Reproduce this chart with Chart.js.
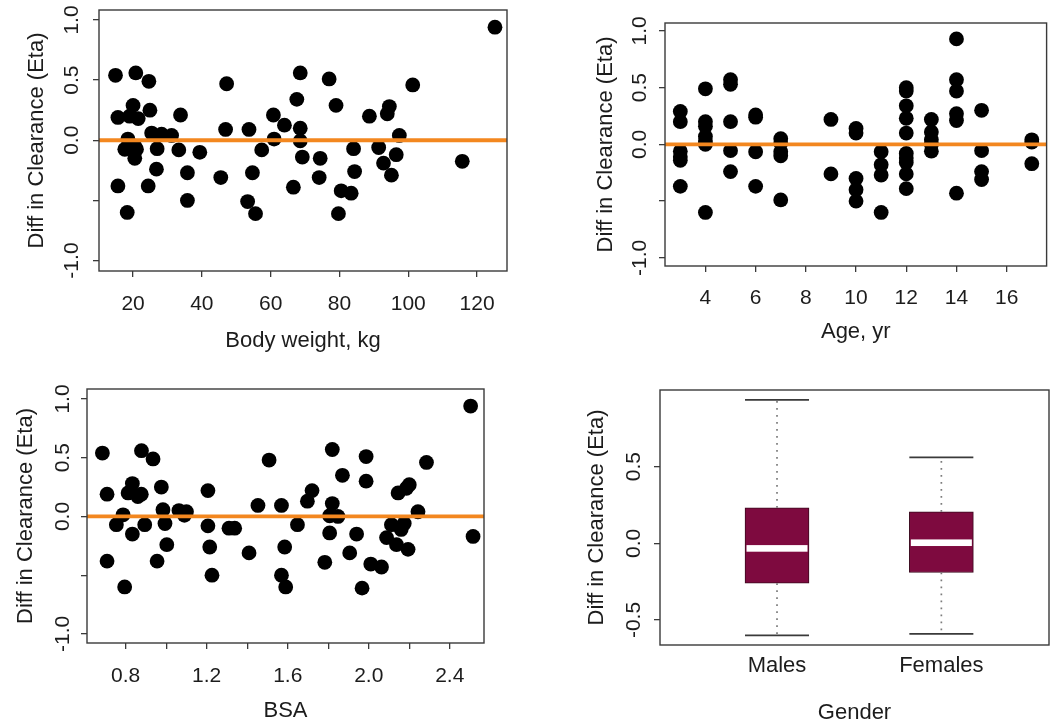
<!DOCTYPE html>
<html>
<head>
<meta charset="utf-8">
<title>Diff in Clearance (Eta) versus covariates</title>
<script src="https://cdn.jsdelivr.net/npm/chart.js@4.4.1/dist/chart.umd.min.js"></script>
<style>
  body { margin: 0; background: #fff; }
  #wrap { position: relative; width: 1054px; height: 728px; }
  canvas { position: absolute; }
</style>
</head>
<body>
<div id="wrap">
  <canvas id="cWeight" width="527" height="364" style="left:0;top:0"></canvas>
  <canvas id="cAge" width="527" height="364" style="left:527px;top:0"></canvas>
  <canvas id="cBsa" width="527" height="364" style="left:0;top:364px"></canvas>
  <canvas id="cGender" width="527" height="364" style="left:527px;top:364px"></canvas>
</div>
<script>
// ---- data ----
const etaTicks = [-1, -0.5, 0, 0.5, 1];
const etaTickLabels = ['-1.0', '', '0.0', '0.5', '1.0'];

// body weight, kg
const weightKg = [14.9, 20.8, 24.6, 47.2, 15.6, 20.0, 19.0, 21.5, 24.9, 33.8, 46.9, 53.7, 18.5, 25.4, 28.3, 31.2,
  17.6, 21.0, 20.5, 27.0, 33.3, 39.4, 57.4, 26.8, 35.8, 45.5, 54.7, 15.6, 24.4, 35.8, 53.3, 18.3, 55.6,
  125.2, 68.6, 77.0, 101.3, 67.6, 79.0, 60.8, 88.7, 94.5, 93.9, 64.0, 68.6, 61.0, 68.6, 97.4, 69.2, 74.4,
  84.1, 91.4, 96.5, 92.8, 95.1, 84.4, 74.1, 66.6, 80.5, 83.4, 79.7, 115.7, 20.5];
const etaByWeight = [0.54, 0.56, 0.49, 0.47, 0.19, 0.29, 0.20, 0.18, 0.25, 0.21, 0.09, 0.09, 0.01, 0.06, 0.05, 0.04,
  -0.075, -0.075, -0.15, -0.07, -0.08, -0.10, -0.08, -0.24, -0.27, -0.31, -0.27, -0.38, -0.38, -0.50, -0.51, -0.60, -0.61,
  0.94, 0.56, 0.51, 0.46, 0.34, 0.29, 0.21, 0.20, 0.28, 0.22, 0.125, 0.10, 0.01, -0.005, 0.04, -0.14, -0.15,
  -0.07, -0.06, -0.12, -0.19, -0.29, -0.26, -0.31, -0.39, -0.42, -0.44, -0.61, -0.175, -0.05];
const weightTicks = [20, 40, 60, 80, 100, 120];
const weightTickLabels = ['20', '40', '60', '80', '100', '120'];

// age, yr
const ageYr = [3, 3, 3, 3, 3, 3, 4, 4, 4, 4, 4, 4, 4, 5, 5, 5, 5, 5, 6, 6, 6, 6, 7, 7, 7, 7, 7, 9, 9,
  10, 10, 10, 10, 10, 11, 11, 11, 11, 12, 12, 12, 12, 12, 12, 12, 12, 12, 12, 13, 13, 13, 13, 13,
  14, 14, 14, 14, 14, 14, 15, 15, 15, 15, 17, 17, 17];
const etaByAge = [0.29, 0.20, -0.06, -0.11, -0.14, -0.37, 0.49, 0.20, 0.16, 0.07, 0.03, 0.00, -0.60,
  0.57, 0.53, 0.20, -0.055, -0.24, 0.26, 0.24, -0.065, -0.37, 0.05, 0.01, -0.065, -0.10, -0.49, 0.22, -0.26,
  0.14, 0.10, -0.30, -0.40, -0.50, -0.065, -0.18, -0.27, -0.60, 0.50, 0.47, 0.34, 0.23, 0.10, -0.08, -0.12, -0.16, -0.26, -0.39,
  0.22, 0.11, 0.04, 0.00, -0.06, 0.93, 0.57, 0.47, 0.27, 0.21, -0.43, 0.30, -0.055, -0.24, -0.31, 0.04, 0.02, -0.17];
const ageTicks = [4, 6, 8, 10, 12, 14, 16];
const ageTickLabels = ['4', '6', '8', '10', '12', '14', '16'];

// body surface area
const bsa = [0.685, 0.878, 0.935, 1.508, 0.708, 0.833, 0.812, 0.877, 0.86, 0.976, 1.206, 1.453, 1.569, 0.787, 0.984,
  1.063, 1.10, 1.09, 0.754, 0.894, 0.994, 0.833, 1.206, 1.338, 1.31, 1.003, 1.215, 1.409, 1.585, 0.708, 0.955, 1.226,
  1.569, 0.795, 1.59, 2.503, 1.82, 1.987, 2.285, 1.87, 1.987, 1.72, 1.697, 2.20, 2.186, 2.145, 1.82, 1.807, 1.848,
  2.243, 1.648, 2.112, 2.175, 2.16, 1.807, 1.94, 2.088, 2.137, 2.194, 2.515, 1.906, 1.783, 2.01, 2.063, 1.967];
const etaByBsa = [0.54, 0.56, 0.49, 0.48, 0.19, 0.28, 0.20, 0.19, 0.17, 0.25, 0.22, 0.094, 0.094, 0.014, 0.057,
  0.05, 0.04, 0.01, -0.07, -0.07, -0.06, -0.15, -0.08, -0.10, -0.10, -0.24, -0.26, -0.31, -0.26, -0.38, -0.38, -0.50,
  -0.50, -0.60, -0.60, 0.94, 0.57, 0.51, 0.46, 0.35, 0.30, 0.22, 0.13, 0.27, 0.24, 0.20, 0.11, 0.006, 0.0,
  0.04, -0.07, -0.07, -0.06, -0.11, -0.14, -0.15, -0.18, -0.24, -0.28, -0.17, -0.31, -0.39, -0.405, -0.43, -0.61];
const bsaTicks = [0.8, 1.0, 1.2, 1.4, 1.6, 1.8, 2.0, 2.2, 2.4];
const bsaTickLabels = ['0.8', '', '1.2', '', '1.6', '', '2.0', '', '2.4'];

// gender box plot
const genderLabels = ['Males', 'Females'];
const genderPos = [1, 2];
const boxMin = [-0.60, -0.59];
const boxQ1 = [-0.26, -0.19];
const boxMedian = [-0.033, 0.004];
const boxQ3 = [0.232, 0.206];
const boxMax = [0.935, 0.56];
const genderEtaTicks = [-0.5, 0, 0.5];
const genderEtaTickLabels = ['-0.5', '0.0', '0.5'];

// ---- styling ----
const FONT = "'Liberation Sans', Arial, Helvetica, sans-serif";
const TEXT = '#1c1c1c';
const AXIS = '#3a3a3a';
const ORANGE = '#F3871F';
const MAROON = '#7E0A3F';
const TICK = 6;
const BOX_W = 64;
const LABEL_HALF = 18.1; // half the width of the widest rotated tick label

const frame = {
  id: 'frame',
  afterDatasetsDraw(chart) {
    const { ctx, chartArea: a } = chart;
    ctx.save();
    ctx.strokeStyle = AXIS;
    ctx.lineWidth = 1.4;
    ctx.strokeRect(a.left, a.top, a.right - a.left, a.bottom - a.top);
    ctx.restore();
  }
};

function font(size) { return { family: FONT, size: size, lineHeight: 1.2 }; }

// g: geometry of a panel inside its 527x364 canvas
function options(g, xr, yr) {
  const xSize = g.xTickSize || 21;
  return {
    responsive: false, animation: false, devicePixelRatio: 1, events: [],
    layout: { padding: { top: g.top, right: g.right, left: 0, bottom: 0 } },
    plugins: { legend: { display: false }, tooltip: { enabled: false } },
    scales: {
      x: {
        type: 'linear', min: xr.min, max: xr.max, offset: false,
        border: { display: false },
        grid: { display: g.xMarks, drawTicks: g.xMarks, drawOnChartArea: false, tickLength: TICK, color: AXIS, lineWidth: 1.3 },
        afterBuildTicks: s => { s.ticks = xr.ticks.map(v => ({ value: v })); },
        ticks: { autoSkip: false, maxRotation: 0, minRotation: 0, color: TEXT, font: font(xSize),
          padding: g.xLabelY - (364 - g.xHeight) - (g.xMarks ? TICK : 0) - xSize * 0.6,
          callback: (v, i) => xr.labels[i] },
        title: { display: true, text: xr.title, color: TEXT, font: font(22),
          padding: { top: 0, bottom: 364 - g.xTitleY - 13.2 } },
        afterFit: s => { s.height = g.xHeight; s.paddingLeft = 0; s.paddingRight = 0; }
      },
      y: {
        type: 'linear', min: yr.min, max: yr.max,
        border: { display: false },
        grid: { drawOnChartArea: false, tickLength: TICK, color: AXIS, lineWidth: 1.3 },
        afterBuildTicks: s => { s.ticks = yr.ticks.map(v => ({ value: v })); },
        ticks: { autoSkip: false, minRotation: 90, maxRotation: 90, crossAlign: 'center', color: TEXT, font: font(21),
          padding: g.yWidth - TICK - LABEL_HALF - g.yLabelX,
          callback: (v, i) => yr.labels[i] },
        title: { display: true, text: 'Diff in Clearance (Eta)', color: TEXT, font: font(22),
          padding: { top: g.yTitleX - 13.2, bottom: 0 } },
        afterFit: s => { s.width = g.yWidth; s.paddingTop = 0; s.paddingBottom = 0; }
      }
    }
  };
}

function scatterPanel(id, g, xs, ys, xr, yr) {
  new Chart(document.getElementById(id), {
    type: 'scatter',
    data: {
      datasets: [
        { type: 'line', showLine: true, data: [{ x: xr.min, y: 0 }, { x: xr.max, y: 0 }],
          borderColor: ORANGE, borderWidth: 3.8, pointRadius: 0, order: 0 },
        { data: xs.map((v, i) => ({ x: v, y: ys[i] })), backgroundColor: '#000', borderWidth: 0,
          pointRadius: 7.4, order: 1 }
      ]
    },
    options: options(g, xr, yr),
    plugins: [frame]
  });
}

scatterPanel('cWeight',
  { top: 10, right: 20, yWidth: 99, xHeight: 93, yLabelX: 72, yTitleX: 37, xLabelY: 304, xTitleY: 341, xMarks: true },
  weightKg, etaByWeight,
  { min: 10.1, max: 128.7, ticks: weightTicks, labels: weightTickLabels, title: 'Body weight, kg' },
  { min: -1.087, max: 1.083, ticks: etaTicks, labels: etaTickLabels });

scatterPanel('cAge',
  { top: 23, right: 5, yWidth: 138, xHeight: 98, yLabelX: 113.5, yTitleX: 79, xLabelY: 298, xTitleY: 332, xMarks: true },
  ageYr, etaByAge,
  { min: 2.39, max: 17.59, ticks: ageTicks, labels: ageTickLabels, title: 'Age, yr' },
  { min: -1.072, max: 1.07, ticks: etaTicks, labels: etaTickLabels });

scatterPanel('cBsa',
  { top: 25, right: 43, yWidth: 87, xHeight: 85, yLabelX: 63.5, yTitleX: 25.7, xLabelY: 312.3, xTitleY: 347.3, xMarks: true },
  bsa, etaByBsa,
  { min: 0.609, max: 2.569, ticks: bsaTicks, labels: bsaTickLabels, title: 'BSA' },
  { min: -1.077, max: 1.085, ticks: etaTicks, labels: etaTickLabels });

// whiskers, caps and medians drawn on top of the floating-bar boxes
const boxExtras = {
  id: 'boxExtras',
  afterDatasetsDraw(chart) {
    const { ctx, scales: { x, y } } = chart;
    ctx.save();
    genderPos.forEach((p, i) => {
      const cx = x.getPixelForValue(p);
      const l = cx - BOX_W / 2, r = cx + BOX_W / 2;
      ctx.strokeStyle = '#7c7c7c';
      ctx.lineWidth = 1.7;
      ctx.setLineDash([1.7, 5.3]);
      ctx.beginPath();
      ctx.moveTo(cx, y.getPixelForValue(boxQ3[i]));
      ctx.lineTo(cx, y.getPixelForValue(boxMax[i]));
      ctx.moveTo(cx, y.getPixelForValue(boxQ1[i]));
      ctx.lineTo(cx, y.getPixelForValue(boxMin[i]));
      ctx.stroke();
      ctx.setLineDash([]);
      ctx.strokeStyle = '#3a3a3a';
      ctx.lineWidth = 1.8;
      ctx.beginPath();
      [boxMax[i], boxMin[i]].forEach(v => {
        const py = y.getPixelForValue(v);
        ctx.moveTo(l, py);
        ctx.lineTo(r, py);
      });
      ctx.stroke();
      const m = y.getPixelForValue(boxMedian[i]);
      ctx.fillStyle = '#fff';
      ctx.fillRect(l + 1.5, m - 3.3, BOX_W - 3, 6.6);
    });
    ctx.restore();
  }
};

const gGender = { top: 26, right: 5, yWidth: 133, xHeight: 83, yLabelX: 106.7, yTitleX: 70, xLabelY: 302.3, xTitleY: 349, xMarks: false, xTickSize: 22 };
new Chart(document.getElementById('cGender'), {
  type: 'bar',
  data: {
    datasets: [{
      data: genderPos.map((p, i) => ({ x: p, y: [boxQ1[i], boxQ3[i]] })),
      backgroundColor: MAROON, borderColor: '#3b0a1e', borderWidth: 1, borderSkipped: false,
      barThickness: BOX_W
    }]
  },
  options: options(gGender,
    { min: 0.288, max: 2.655, ticks: genderPos, labels: genderLabels, title: 'Gender' },
    { min: -0.663, max: 1.0, ticks: genderEtaTicks, labels: genderEtaTickLabels }),
  plugins: [boxExtras, frame]
});
</script>
</body>
</html>
